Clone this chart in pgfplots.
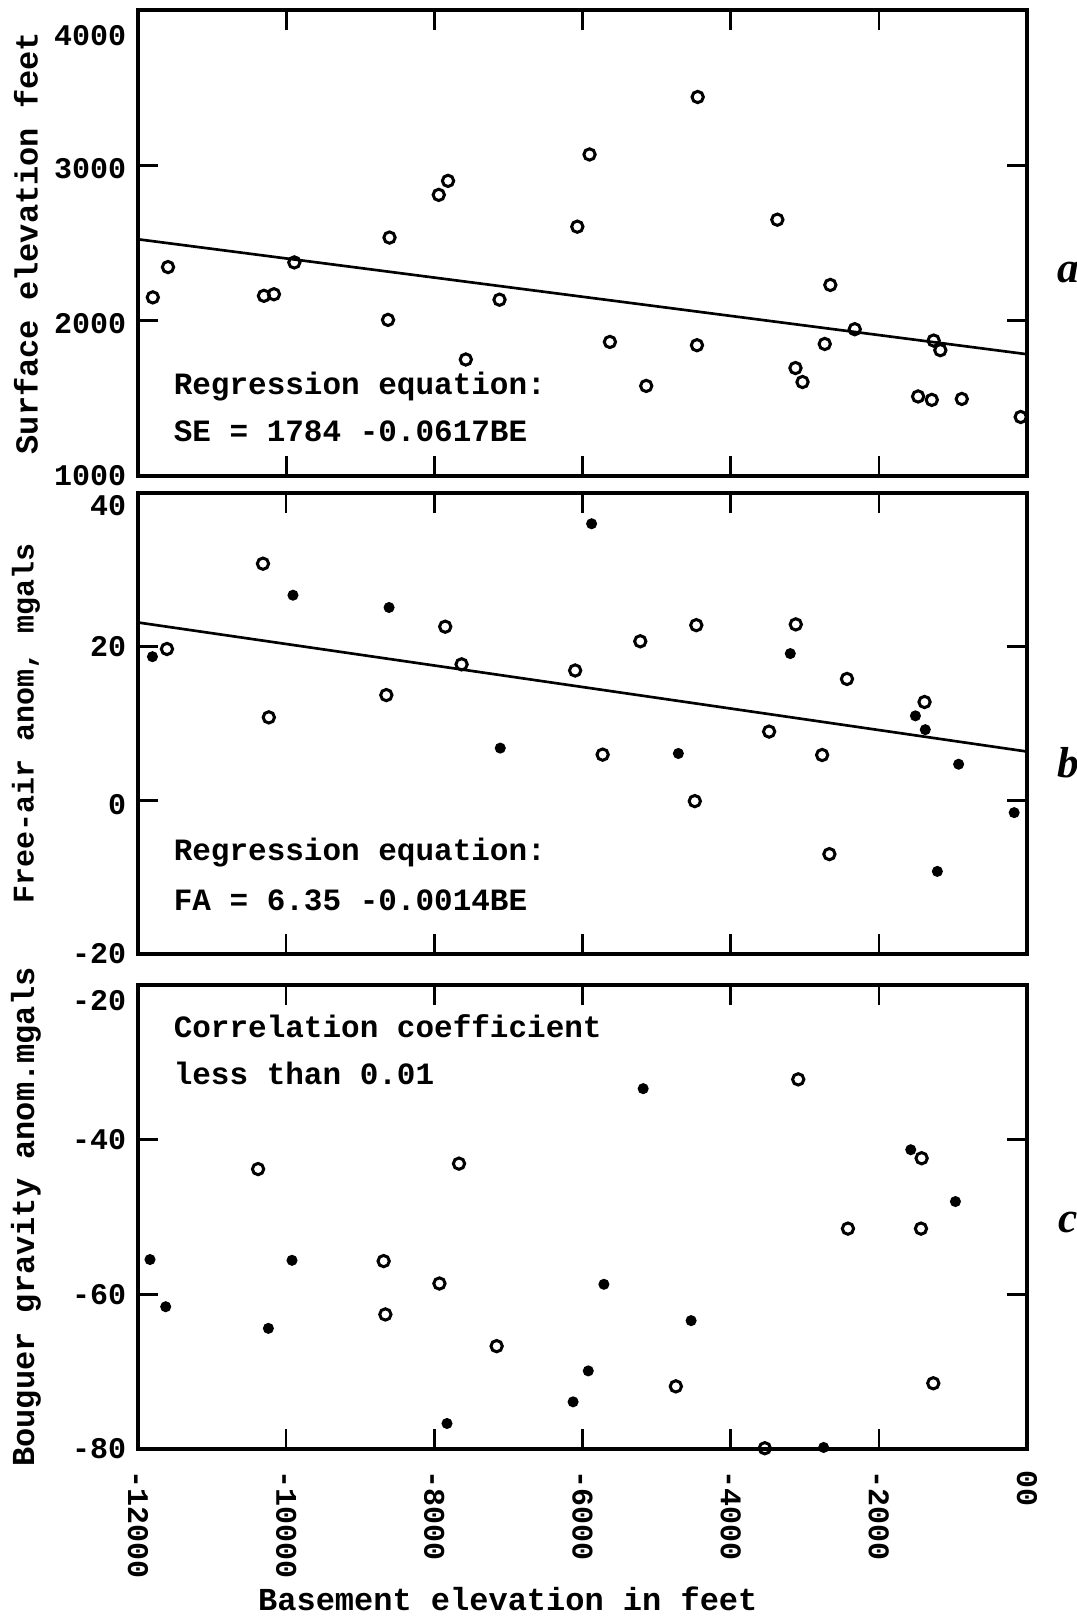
\documentclass[border=0pt]{standalone}
\usepackage{fontspec}
\setmainfont{Liberation Mono}
\newfontfamily\sidefont{Liberation Serif}
\usepackage{pgfplots}
\pgfplotsset{compat=1.18}
\newcommand{\yl}[2]{\raisebox{-#1}{#2}}
\begin{document}
\begin{tikzpicture}
\useasboundingbox (0,0) rectangle (323.1pt,-485.1pt);
\pgfplotsset{
  panel/.style={
    anchor=north west, scale only axis, width=266.7pt,
    xmin=-12000, xmax=0,
    xtick={-12000,-10000,-8000,-6000,-4000,-2000,0},
    scaled x ticks=false, scaled y ticks=false,
    tick align=inside, xtick pos=both, ytick pos=both,
    major tick length=6pt,
    tick style={line width=0.8pt, black},
    axis line style={line width=1.3pt},
    tick label style={font=\fontsize{9}{10}\selectfont\bfseries},
    yticklabel style={anchor=base east},
    label style={font=\fontsize{9.6}{11}\selectfont\bfseries},
    ylabel style={at={(axis description cs:-0.126,0.5)}, anchor=center},
    clip mode=individual,
    xticklabels={},
  },
  openm/.style={only marks, mark=o, mark size=1.7pt, mark options={line width=0.9pt, black}},
  fullm/.style={only marks, mark=*, mark size=1.45pt, mark options={black, fill=black}},
}
\tikzset{
  txt/.style={anchor=west, font=\fontsize{9.3}{11}\selectfont\bfseries},
  side/.style={font=\sidefont\bfseries\itshape\fontsize{13}{14}\selectfont},
}
% ---------- panel a ----------
\begin{axis}[panel, at={(41.4pt,-3pt)}, height=139.8pt,
  ymin=1000, ymax=4000, ytick={1000,2000,3000,4000},
  yticklabels={\yl{2.9pt}{1000},\yl{3.9pt}{2000},\yl{3.9pt}{3000},\yl{10.6pt}{4000}},
  ylabel={Surface elevation feet}]
\addplot[line width=0.8pt, black] coordinates {(-12000,2524) (0,1784)};
\addplot[openm] coordinates {
(-11800,2150) (-11595,2345) (-10300,2160) (-10165,2170) (-9890,2375)
(-8605,2535) (-8625,2005) (-7940,2810) (-7815,2900) (-7575,1750)
(-7120,2135) (-6070,2605) (-5905,3070) (-5630,1863) (-5140,1580)
(-4445,3440) (-4455,1842) (-3370,2650) (-3125,1695) (-3030,1605)
(-2730,1850) (-2655,2230) (-2325,1945) (-1470,1512) (-1285,1490)
(-1260,1872) (-1170,1810) (-880,1496) (-85,1380)};
\node[txt] at (axis description cs:0.027,0.191) {Regression equation:};
\node[txt] at (axis description cs:0.027,0.097) {SE = 1784 -0.0617BE};
\node[side] at (axis description cs:1.046,0.436) {a};
\end{axis}
% ---------- panel b ----------
\begin{axis}[panel, at={(41.4pt,-147.9pt)}, height=138.3pt,
  ymin=-20, ymax=40, ytick={-20,0,20,40},
  yticklabels={\yl{2.9pt}{-20},\yl{4.1pt}{0},\yl{2.9pt}{20},\yl{6.6pt}{40}},
  ylabel={Free-air anom, mgals},
  ylabel style={font=\fontsize{9}{11}\selectfont\bfseries}]
\addplot[line width=0.8pt, black] coordinates {(-12000,23.15) (0,6.35)};
\addplot[fullm] coordinates {
(-11805,18.7) (-9908,26.7) (-8611,25.1) (-7110,6.8) (-5877,36.0)
(-4706,6.1) (-3195,19.1) (-1506,11.0) (-1373,9.2) (-923,4.7)
(-173,-1.6) (-1210,-9.25)};
\addplot[openm] coordinates {
(-11609,19.7) (-10313,30.8) (-10234,10.8) (-8648,13.7) (-7853,22.6)
(-7632,17.7) (-6099,16.9) (-5728,5.95) (-5220,20.7) (-4464,22.8)
(-4484,-0.1) (-3481,8.95) (-3121,22.9) (-2765,5.9) (-2667,-7.0)
(-2430,15.8) (-1383,12.8)};
\node[txt] at (axis description cs:0.027,0.221) {Regression equation:};
\node[txt] at (axis description cs:0.027,0.117) {FA = 6.35 -0.0014BE};
\node[side] at (axis description cs:1.046,0.414) {b};
\end{axis}
% ---------- panel c ----------
\begin{axis}[panel, at={(41.4pt,-295.5pt)}, height=139.2pt,
  ymin=-80, ymax=-20, ytick={-80,-60,-40,-20},
  yticklabels={\yl{2.9pt}{-80},\yl{2.9pt}{-60},\yl{2.9pt}{-40},\yl{7.5pt}{-20}},
  ylabel={Bouguer gravity anom.mgals},
  xticklabels={-12000,-10000,-8000,-6000,-4000,-2000,00},
  xticklabel style={rotate=-90, anchor=west},
  xticklabel shift=3pt,
  xlabel={Basement elevation in feet},
  xlabel style={at={(axis description cs:0.416,-0.347)}, anchor=base}]
\addplot[fullm] coordinates {
(-11838,-55.5) (-11626,-61.6) (-9921,-55.6) (-10240,-64.4) (-7829,-76.7)
(-5181,-33.4) (-5711,-58.7) (-4534,-63.4) (-5922,-69.9) (-6127,-73.9)
(-1569,-41.3) (-966,-48.0) (-2745,-79.8)};
\addplot[openm] coordinates {
(-10379,-43.8) (-8684,-55.7) (-8661,-62.6) (-7931,-58.6) (-7667,-43.1)
(-7159,-66.7) (-3088,-32.2) (-1422,-42.4) (-2417,-51.5) (-1431,-51.5)
(-4740,-71.9) (-1265,-71.5) (-3539,-79.9)};
\node[txt] at (axis description cs:0.027,0.912) {Correlation coefficient};
\node[txt] at (axis description cs:0.027,0.81) {less than 0.01};
\node[side] at (axis description cs:1.046,0.489) {c};
\end{axis}
\end{tikzpicture}
\end{document}
